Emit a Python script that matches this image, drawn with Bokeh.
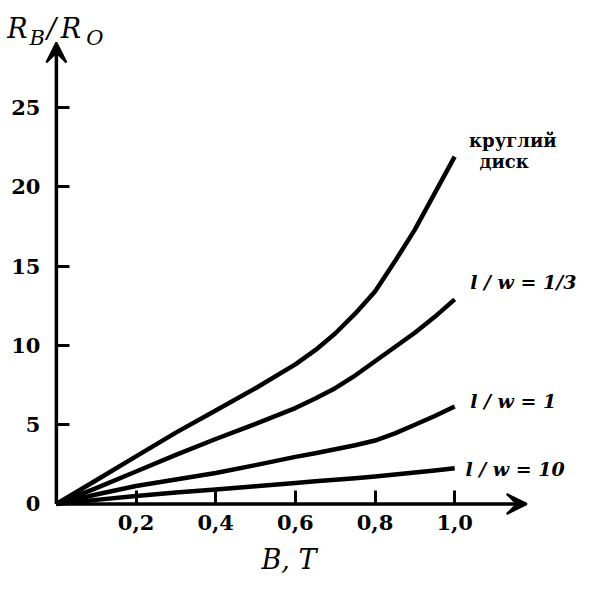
from bokeh.plotting import figure
from bokeh.models import Range1d, FixedTicker, Arrow, VeeHead, Label
from bokeh.embed import file_html
from bokeh.resources import INLINE

# ---- data ----
B = [0, 0.1, 0.2, 0.3, 0.4, 0.5, 0.6, 0.65, 0.7, 0.75, 0.8, 0.85, 0.9, 0.95, 1.0]
disk = [0, 1.5, 3.0, 4.5, 5.9, 7.3, 8.8, 9.7, 10.75, 12.0, 13.4, 15.3, 17.3, 19.6, 21.9]
lw_1_3 = [0, 1.0, 2.05, 3.1, 4.1, 5.05, 6.05, 6.65, 7.3, 8.1, 9.0, 9.9, 10.8, 11.8, 12.9]
lw_1 = [0, 0.6, 1.13, 1.55, 1.95, 2.45, 2.97, 3.2, 3.45, 3.7, 4.0, 4.45, 5.0, 5.55, 6.15]
lw_10 = [0, 0.26, 0.51, 0.72, 0.92, 1.12, 1.33, 1.43, 1.53, 1.63, 1.74, 1.86, 1.98, 2.11, 2.25]

x_ticks = [0.2, 0.4, 0.6, 0.8, 1.0]
x_tick_labels = ["0,2", "0,4", "0,6", "0,8", "1,0"]
y_ticks = [0, 5, 10, 15, 20, 25]

FONT = "DejaVu Serif"

p = figure(width=585, height=585, output_backend="svg", toolbar_location=None,
           x_range=Range1d(-0.1403, 1.3284), y_range=Range1d(-5.139, 31.746),
           min_border=0)
p.outline_line_color = None
p.grid.grid_line_color = None

for ax in (p.xaxis[0], p.yaxis[0]):
    ax.fixed_location = 0
    ax.axis_line_color = None
    ax.major_tick_in = 13
    ax.major_tick_out = 0
    ax.major_tick_line_width = 3
    ax.major_tick_line_color = "black"
    ax.minor_tick_line_color = None
    ax.major_label_text_font = FONT
    ax.major_label_text_font_style = "bold"
    ax.major_label_text_font_size = "21px"
    ax.major_label_text_color = "black"

p.xaxis.ticker = FixedTicker(ticks=x_ticks)
p.xaxis.major_label_overrides = {t: s for t, s in zip(x_ticks, x_tick_labels)}
p.xaxis.major_label_standoff = 11
p.yaxis.ticker = FixedTicker(ticks=y_ticks)
p.yaxis.major_label_standoff = 16

# axes drawn as arrows from the origin
p.add_layout(Arrow(end=VeeHead(size=20, fill_color="black", line_color="black", line_width=2),
                   x_start=0, y_start=0, x_end=1.181, y_end=0,
                   line_width=3.5, line_color="black"))
p.add_layout(Arrow(end=VeeHead(size=20, fill_color="black", line_color="black", line_width=2),
                   x_start=0, y_start=0, x_end=0, y_end=29.1,
                   line_width=3.5, line_color="black"))

for ys in (disk, lw_1_3, lw_1, lw_10):
    p.line(B, ys, line_width=4.5, line_color="black", line_join="round")

def lab(x, y, text, size="19px", style="bold italic", align="left", baseline="middle"):
    p.add_layout(Label(x=x, y=y, text=text, text_font=FONT, text_font_style=style,
                       text_font_size=size, text_color="black", text_align=align,
                       text_baseline=baseline))

lab(1.146, 22.95, "круглий", size="18px", style="bold", align="center")
lab(1.124, 21.6, "диск", size="18px", style="bold", align="center")
lab(1.039, 13.98, "l / w = 1/3")
lab(1.039, 6.48, "l / w = 1")
lab(1.027, 2.18, "l / w = 10")

# x-axis title
lab(0.584, -3.47, "B, T", size="27px", style="italic", align="center")

# y-axis title R_B / R_O
lab(-0.1236, 29.96, "R", size="27px", style="italic", baseline="alphabetic")
lab(-0.0673, 29.41, "B", size="21px", style="italic", baseline="alphabetic")
lab(-0.0233, 29.96, "/", size="27px", style="italic", baseline="alphabetic")
lab(0.0110, 29.96, "R", size="27px", style="italic", baseline="alphabetic")
lab(0.0747, 29.41, "O", size="21px", style="italic", baseline="alphabetic")

open("out.html", "w").write(file_html(p, INLINE))
